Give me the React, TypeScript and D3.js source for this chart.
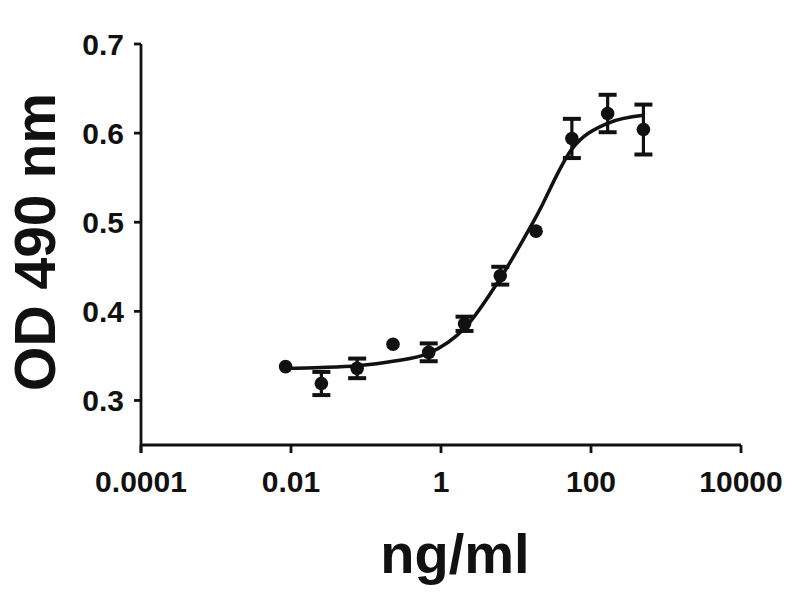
import React from "react";
import * as d3 from "d3";

// Concentrations (ng/ml), 3-fold dilution series
const concentrations = [0.00847, 0.0254, 0.0762, 0.229, 0.686, 2.06, 6.17, 18.5, 55.6, 166.7, 500];
// Mean OD 490 nm
const odMeans = [0.338, 0.319, 0.336, 0.363, 0.354, 0.386, 0.44, 0.49, 0.594, 0.622, 0.604];
// Error (SD) for each point
const odErrors = [0.003, 0.013, 0.011, 0.004, 0.01, 0.008, 0.01, 0.005, 0.022, 0.021, 0.028];
// Fitted curve at each concentration
const fitValues = [0.336, 0.337, 0.339, 0.344, 0.353, 0.381, 0.437, 0.506, 0.582, 0.611, 0.62];

const xTicks = [0.0001, 0.01, 1, 100, 10000];
const xTickLabels = ["0.0001", "0.01", "1", "100", "10000"];
const yTicks = [0.3, 0.4, 0.5, 0.6, 0.7];
const yTickLabels = ["0.3", "0.4", "0.5", "0.6", "0.7"];

const xTitle = "ng/ml";
const yTitle = "OD 490 nm";

export default function App() {
  const W = 800;
  const H = 600;
  const x = d3.scaleLog().domain([0.0001, 10000]).range([141, 741]);
  const y = d3.scaleLinear().domain([0.25, 0.7]).range([445, 44]);
  const ink = "#111";
  const font = "'Liberation Sans', Arial, sans-serif";

  const fitPts: [number, number][] = concentrations.map((c, i) => [c, fitValues[i]]);
  const line = d3
    .line<[number, number]>()
    .x((d) => x(d[0]))
    .y((d) => y(d[1]))
    .curve(d3.curveMonotoneX);

  const cap = 9;
  const r = 6.8;

  return (
    <svg
      width={W}
      height={H}
      style={{ position: "absolute", left: 0, top: 0, background: "#fff" }}
    >
      <rect width={W} height={H} fill="#fff" />
      {/* Y axis */}
      <line x1={x(0.0001)} x2={x(0.0001)} y1={y(0.7)} y2={453} stroke={ink} strokeWidth={2.8} />
      {yTicks.map((t, i) => (
        <g key={"yt" + i}>
          <line x1={x(0.0001) - 7} x2={x(0.0001)} y1={y(t)} y2={y(t)} stroke={ink} strokeWidth={2.8} />
          <text
            x={x(0.0001) - 17}
            y={y(t)}
            dy="0.36em"
            textAnchor="end"
            fontFamily={font}
            fontWeight="bold"
            fontSize={30}
            fill={ink}
          >
            {yTickLabels[i]}
          </text>
        </g>
      ))}
      {/* X axis */}
      <line x1={x(0.0001)} x2={x(10000)} y1={y(0.25)} y2={y(0.25)} stroke={ink} strokeWidth={2.8} />
      {xTicks.map((t, i) => (
        <g key={"xt" + i}>
          <line x1={x(t)} x2={x(t)} y1={y(0.25)} y2={y(0.25) + 8} stroke={ink} strokeWidth={2.8} />
          <text
            x={x(t)}
            y={492}
            textAnchor="middle"
            fontFamily={font}
            fontWeight="bold"
            fontSize={30}
            fill={ink}
          >
            {xTickLabels[i]}
          </text>
        </g>
      ))}
      {/* Titles */}
      <text
        x={455}
        y={573}
        textAnchor="middle"
        fontFamily={font}
        fontWeight="bold"
        fontSize={56}
        fill={ink}
      >
        {xTitle}
      </text>
      <text
        transform={`translate(55,242) rotate(-90)`}
        textAnchor="middle"
        fontFamily={font}
        fontWeight="bold"
        fontSize={57}
        fill={ink}
      >
        {yTitle}
      </text>
      {/* Fit curve */}
      <path d={line(fitPts) || ""} fill="none" stroke={ink} strokeWidth={3.5} />
      {/* Error bars and points */}
      {concentrations.map((c, i) => {
        const cx = x(c);
        const cy = y(odMeans[i]);
        const top = y(odMeans[i] + odErrors[i]);
        const bot = y(odMeans[i] - odErrors[i]);
        const showBar = (bot - top) / 2 > r - 1;
        return (
          <g key={"p" + i}>
            {showBar && (
              <>
                <line x1={cx} x2={cx} y1={top} y2={bot} stroke={ink} strokeWidth={3.2} />
                <line x1={cx - cap} x2={cx + cap} y1={top} y2={top} stroke={ink} strokeWidth={4} />
                <line x1={cx - cap} x2={cx + cap} y1={bot} y2={bot} stroke={ink} strokeWidth={4} />
              </>
            )}
            <circle cx={cx} cy={cy} r={r} fill={ink} />
          </g>
        );
      })}
    </svg>
  );
}
